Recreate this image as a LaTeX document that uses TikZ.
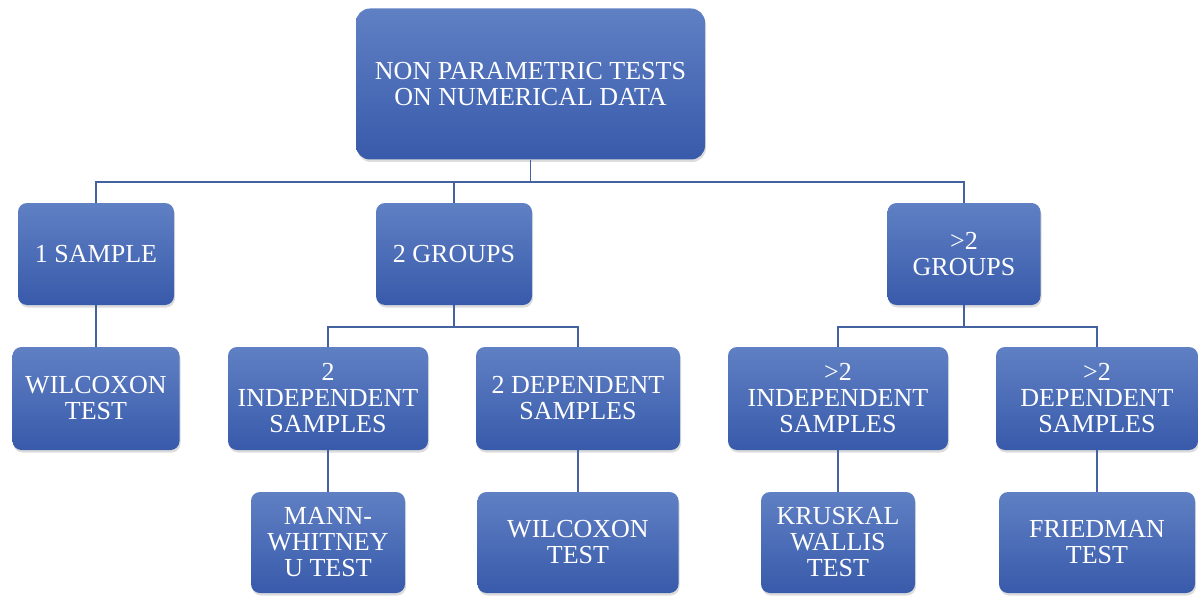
\documentclass[tikz,border=0pt]{standalone}
\usepackage{fontspec}
\setmainfont{Liberation Serif}
\newfontfamily\boxfont{Liberation Serif}
\usetikzlibrary{shadows}
\definecolor{boxtop}{RGB}{96,128,196}
\definecolor{boxbot}{RGB}{56,90,170}
\definecolor{linkcol}{RGB}{68,98,160}
\tikzset{
  box/.style={rectangle, rounded corners=9pt, top color=boxtop, bottom color=boxbot,
    draw=none, text=white, align=center, inner sep=2pt,
    font=\boxfont\fontsize{26}{26}\selectfont,
    drop shadow={opacity=0.28, shadow xshift=1pt, shadow yshift=-2.5pt}},
  link/.style={draw=linkcol, line width=1.4pt}
}
\begin{document}
\begin{tikzpicture}[x=1pt,y=1pt]
\useasboundingbox (0,0) rectangle (1198,-596);
% level 0
\node[box, rounded corners=14pt, minimum width=349pt, minimum height=151pt] (root) at (530.5,-84)
  {NON PARAMETRIC TESTS\\ON NUMERICAL DATA};
% level 1
\node[box, minimum width=156pt, minimum height=102pt] (s1) at (96,-254) {1 SAMPLE};
\node[box, minimum width=156pt, minimum height=102pt] (g2) at (454,-254) {2 GROUPS};
\node[box, minimum width=153pt, minimum height=102pt] (g3) at (964,-254) {>2\\GROUPS};
% level 2
\node[box, minimum width=167pt, minimum height=103pt] (w1) at (96,-398.5) {WILCOXON\\TEST};
\node[box, minimum width=200pt, minimum height=103pt] (ind2) at (328,-398.5) {2\\INDEPENDENT\\SAMPLES};
\node[box, minimum width=204pt, minimum height=103pt] (dep2) at (578,-398.5) {2 DEPENDENT\\SAMPLES};
\node[box, minimum width=220pt, minimum height=103pt] (ind3) at (838,-398.5) {>2\\INDEPENDENT\\SAMPLES};
\node[box, minimum width=202pt, minimum height=103pt] (dep3) at (1097,-398.5) {>2\\DEPENDENT\\SAMPLES};
% level 3
\node[box, minimum width=154pt, minimum height=101pt] (mann) at (328,-542.5) {MANN-\\WHITNEY\\U TEST};
\node[box, minimum width=201pt, minimum height=101pt] (w2) at (578,-542.5) {WILCOXON\\TEST};
\node[box, minimum width=154pt, minimum height=101pt] (kr) at (838,-542.5) {KRUSKAL\\WALLIS\\TEST};
\node[box, minimum width=196pt, minimum height=101pt] (fr) at (1097,-542.5) {FRIEDMAN\\TEST};
% connectors
\coordinate (bus1) at (0,-182);
\coordinate (bus2) at (0,-327);
\draw[link] (root.south) -- (root.south |- bus1);
\draw[link] (s1.north) -- (s1.north |- bus1) -- (g3.north |- bus1) -- (g3.north);
\draw[link] (g2.north) -- (g2.north |- bus1);
\draw[link] (s1.south) -- (w1.north);
\draw[link] (g2.south) -- (g2.south |- bus2);
\draw[link] (ind2.north) -- (ind2.north |- bus2) -- (dep2.north |- bus2) -- (dep2.north);
\draw[link] (g3.south) -- (g3.south |- bus2);
\draw[link] (ind3.north) -- (ind3.north |- bus2) -- (dep3.north |- bus2) -- (dep3.north);
\draw[link] (ind2.south) -- (mann.north);
\draw[link] (dep2.south) -- (w2.north);
\draw[link] (ind3.south) -- (kr.north);
\draw[link] (dep3.south) -- (fr.north);
\end{tikzpicture}
\end{document}
